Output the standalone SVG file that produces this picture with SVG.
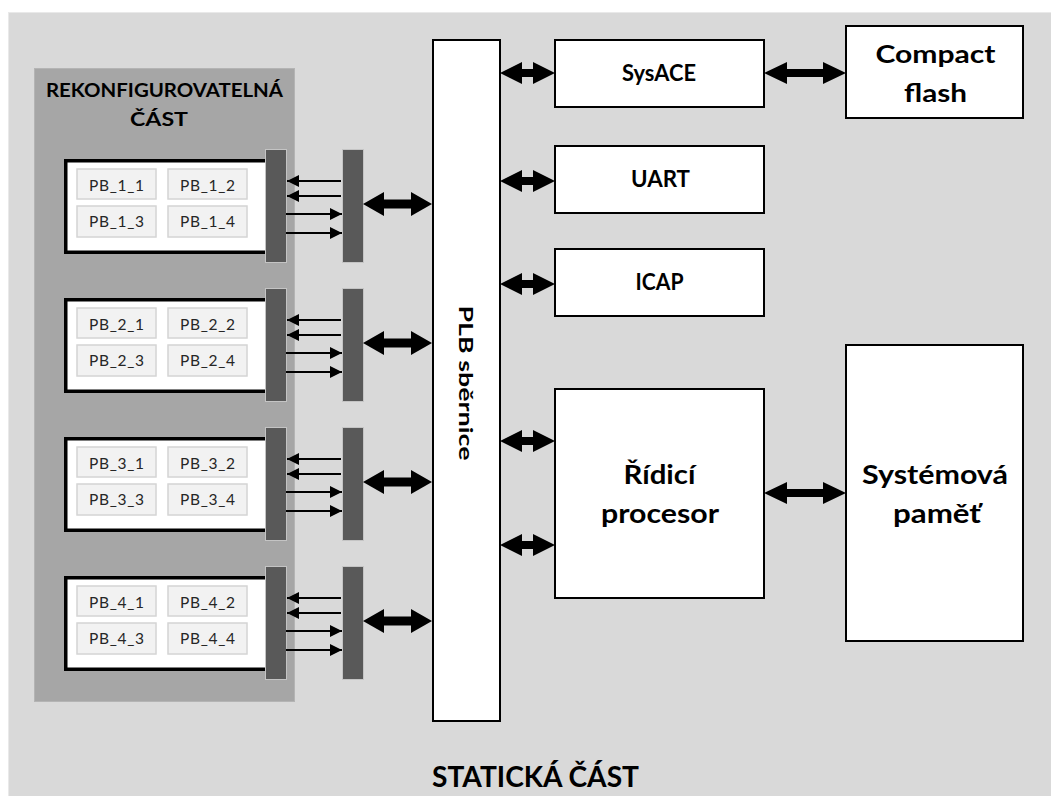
<svg xmlns="http://www.w3.org/2000/svg" width="1051" height="796" viewBox="0 0 1051 796">
  <style>
    .bg { fill: #ffffff; }
    .static { fill: #d9d9d9; stroke: #e9e9e9; stroke-width: 1; }
    .reconf { fill: #a6a6a6; stroke: #b4b4b4; stroke-width: 1; }
    .box { fill: #ffffff; stroke: #000000; stroke-width: 2; }
    .module { fill: #ffffff; stroke: #000000; stroke-width: 3.5; }
    .pb { fill: #f2f2f2; stroke: #d4d4d4; stroke-width: 1.5; }
    .bar { fill: #595959; stroke: #c4c4c4; stroke-width: 1; }
    .big { fill: #000000; }
    .thin { stroke: #000000; stroke-width: 2; fill: none; marker-end: url(#tip); }
    .lbl { font-family: Lato, "Liberation Sans", sans-serif; font-weight: bold; fill: #000000; text-anchor: middle; }
    .pbt { font-family: Lato, "Liberation Sans", sans-serif; font-size: 15.5px; fill: #262626; text-anchor: middle; }
  </style>
  <defs>
    <marker id="tip" viewBox="0 0 12 12" refX="12" refY="6" markerWidth="12" markerHeight="12" markerUnits="userSpaceOnUse" orient="auto">
      <path d="M0,0 L12,6 L0,12 Z" fill="#000000"/>
    </marker>
  </defs>

  <rect class="bg" x="0" y="0" width="1051" height="796"/>
  <rect class="static" x="8.5" y="12.5" width="1045" height="790"/>
  <rect class="reconf" x="34.5" y="68.5" width="260" height="633"/>

  <text class="lbl" x="164.5" y="97" font-size="19" textLength="237" lengthAdjust="spacingAndGlyphs">REKONFIGUROVATELNÁ</text>
  <text class="lbl" x="159" y="126" font-size="19" textLength="58" lengthAdjust="spacingAndGlyphs">ČÁST</text>
  <text class="lbl" x="535.5" y="787" font-size="29" textLength="207" lengthAdjust="spacingAndGlyphs">STATICKÁ ČÁST</text>

  <!-- reconfigurable modules: bordered frame, four PB blocks, two interface bars -->
  <g id="module-1">
    <rect class="module" x="65.75" y="160.75" width="210" height="91.5"/>
    <rect class="pb" x="77" y="169" width="79" height="30"/>
    <rect class="pb" x="168" y="169" width="79" height="30"/>
    <rect class="pb" x="77" y="206" width="79" height="31"/>
    <rect class="pb" x="168" y="206" width="79" height="31"/>
    <text class="pbt" x="116.5" y="190.5" textLength="55">PB_1_1</text>
    <text class="pbt" x="207.5" y="190.5" textLength="55">PB_1_2</text>
    <text class="pbt" x="116.5" y="227" textLength="55">PB_1_3</text>
    <text class="pbt" x="207.5" y="227" textLength="55">PB_1_4</text>
    <rect class="bar" x="265.5" y="149.5" width="21" height="113"/>
    <rect class="bar" x="342.5" y="149.5" width="21" height="113"/>
  </g>
  <g id="module-2" transform="translate(0,139)">
    <rect class="module" x="65.75" y="160.75" width="210" height="91.5"/>
    <rect class="pb" x="77" y="169" width="79" height="30"/>
    <rect class="pb" x="168" y="169" width="79" height="30"/>
    <rect class="pb" x="77" y="206" width="79" height="31"/>
    <rect class="pb" x="168" y="206" width="79" height="31"/>
    <text class="pbt" x="116.5" y="190.5" textLength="55">PB_2_1</text>
    <text class="pbt" x="207.5" y="190.5" textLength="55">PB_2_2</text>
    <text class="pbt" x="116.5" y="227" textLength="55">PB_2_3</text>
    <text class="pbt" x="207.5" y="227" textLength="55">PB_2_4</text>
    <rect class="bar" x="265.5" y="149.5" width="21" height="113"/>
    <rect class="bar" x="342.5" y="149.5" width="21" height="113"/>
  </g>
  <g id="module-3" transform="translate(0,278)">
    <rect class="module" x="65.75" y="160.75" width="210" height="91.5"/>
    <rect class="pb" x="77" y="169" width="79" height="30"/>
    <rect class="pb" x="168" y="169" width="79" height="30"/>
    <rect class="pb" x="77" y="206" width="79" height="31"/>
    <rect class="pb" x="168" y="206" width="79" height="31"/>
    <text class="pbt" x="116.5" y="190.5" textLength="55">PB_3_1</text>
    <text class="pbt" x="207.5" y="190.5" textLength="55">PB_3_2</text>
    <text class="pbt" x="116.5" y="227" textLength="55">PB_3_3</text>
    <text class="pbt" x="207.5" y="227" textLength="55">PB_3_4</text>
    <rect class="bar" x="265.5" y="149.5" width="21" height="113"/>
    <rect class="bar" x="342.5" y="149.5" width="21" height="113"/>
  </g>
  <g id="module-4" transform="translate(0,417)">
    <rect class="module" x="65.75" y="160.75" width="210" height="91.5"/>
    <rect class="pb" x="77" y="169" width="79" height="30"/>
    <rect class="pb" x="168" y="169" width="79" height="30"/>
    <rect class="pb" x="77" y="206" width="79" height="31"/>
    <rect class="pb" x="168" y="206" width="79" height="31"/>
    <text class="pbt" x="116.5" y="190.5" textLength="55">PB_4_1</text>
    <text class="pbt" x="207.5" y="190.5" textLength="55">PB_4_2</text>
    <text class="pbt" x="116.5" y="227" textLength="55">PB_4_3</text>
    <text class="pbt" x="207.5" y="227" textLength="55">PB_4_4</text>
    <rect class="bar" x="265.5" y="149.5" width="21" height="113"/>
    <rect class="bar" x="342.5" y="149.5" width="21" height="113"/>
  </g>

  <!-- static blocks -->
  <g id="plb">
    <rect class="box" x="433" y="40" width="67" height="681"/>
    <text class="lbl" font-size="19" transform="translate(459,383) rotate(90)" textLength="155" lengthAdjust="spacingAndGlyphs">PLB sběrnice</text>
  </g>
  <g id="sysace">
    <rect class="box" x="555" y="40" width="209" height="67"/>
    <text class="lbl" x="659" y="81" font-size="22" textLength="74" lengthAdjust="spacingAndGlyphs">SysACE</text>
  </g>
  <g id="uart">
    <rect class="box" x="555" y="146" width="209" height="67"/>
    <text class="lbl" x="660.5" y="187" font-size="22" textLength="59" lengthAdjust="spacingAndGlyphs">UART</text>
  </g>
  <g id="icap">
    <rect class="box" x="555" y="249" width="209" height="67"/>
    <text class="lbl" x="659.5" y="290" font-size="22" textLength="48" lengthAdjust="spacingAndGlyphs">ICAP</text>
  </g>
  <g id="compact-flash">
    <rect class="box" x="846" y="26" width="177" height="92"/>
    <text class="lbl" x="935.5" y="63" font-size="25" textLength="120" lengthAdjust="spacingAndGlyphs">Compact</text>
    <text class="lbl" x="935.5" y="102" font-size="25" textLength="63" lengthAdjust="spacingAndGlyphs">flash</text>
  </g>
  <g id="procesor">
    <rect class="box" x="555" y="389" width="209" height="209"/>
    <text class="lbl" x="659.5" y="484" font-size="26" textLength="72" lengthAdjust="spacingAndGlyphs">Řídicí</text>
    <text class="lbl" x="660" y="523" font-size="26" textLength="118" lengthAdjust="spacingAndGlyphs">procesor</text>
  </g>
  <g id="pamet">
    <rect class="box" x="846" y="345" width="177" height="296"/>
    <text class="lbl" x="935" y="484" font-size="26" textLength="146" lengthAdjust="spacingAndGlyphs">Systémová</text>
    <text class="lbl" x="937" y="523" font-size="26" textLength="88" lengthAdjust="spacingAndGlyphs">paměť</text>
  </g>

  <!-- connectors -->
  <g id="connectors">
    <!-- thin signal arrows between module bars -->
    <g id="signals">
      <path class="thin" d="M341,181 H287"/>
      <path class="thin" d="M341,196 H287"/>
      <path class="thin" d="M286,214 H342"/>
      <path class="thin" d="M286,233 H342"/>
      <path class="thin" d="M341,320 H287"/>
      <path class="thin" d="M341,335 H287"/>
      <path class="thin" d="M286,353 H342"/>
      <path class="thin" d="M286,372 H342"/>
      <path class="thin" d="M341,459 H287"/>
      <path class="thin" d="M341,474 H287"/>
      <path class="thin" d="M286,492 H342"/>
      <path class="thin" d="M286,511 H342"/>
      <path class="thin" d="M341,598 H287"/>
      <path class="thin" d="M341,613 H287"/>
      <path class="thin" d="M286,631 H342"/>
      <path class="thin" d="M286,650 H342"/>
    </g>
    <!-- bidirectional bus arrows -->
    <g id="bus-arrows" class="big">
      <polygon points="363,204 384,192 384,199.5 411,199.5 411,192 432,204 411,216 411,208.5 384,208.5 384,216"/>
      <polygon points="363,343 384,331 384,338.5 411,338.5 411,331 432,343 411,355 411,347.5 384,347.5 384,355"/>
      <polygon points="363,482 384,470 384,477.5 411,477.5 411,470 432,482 411,494 411,486.5 384,486.5 384,494"/>
      <polygon points="363,621 384,609 384,616.5 411,616.5 411,609 432,621 411,633 411,625.5 384,625.5 384,633"/>

      <polygon points="500,73 522,62 522,69 533,69 533,62 555,73 533,84 533,77 522,77 522,84"/>
      <polygon points="500,181 522,170 522,177 533,177 533,170 555,181 533,192 533,185 522,185 522,192"/>
      <polygon points="500,284 522,273 522,280 533,280 533,273 555,284 533,295 533,288 522,288 522,295"/>
      <polygon points="500,441 522,430 522,437 533,437 533,430 555,441 533,452 533,445 522,445 522,452"/>
      <polygon points="500,545 522,534 522,541 533,541 533,534 555,545 533,556 533,549 522,549 522,556"/>

      <polygon points="764,73 787,62 787,69 823,69 823,62 846,73 823,84 823,77 787,77 787,84"/>
      <polygon points="764,493 787,482 787,489 823,489 823,482 846,493 823,504 823,497 787,497 787,504"/>
    </g>
  </g>
</svg>
